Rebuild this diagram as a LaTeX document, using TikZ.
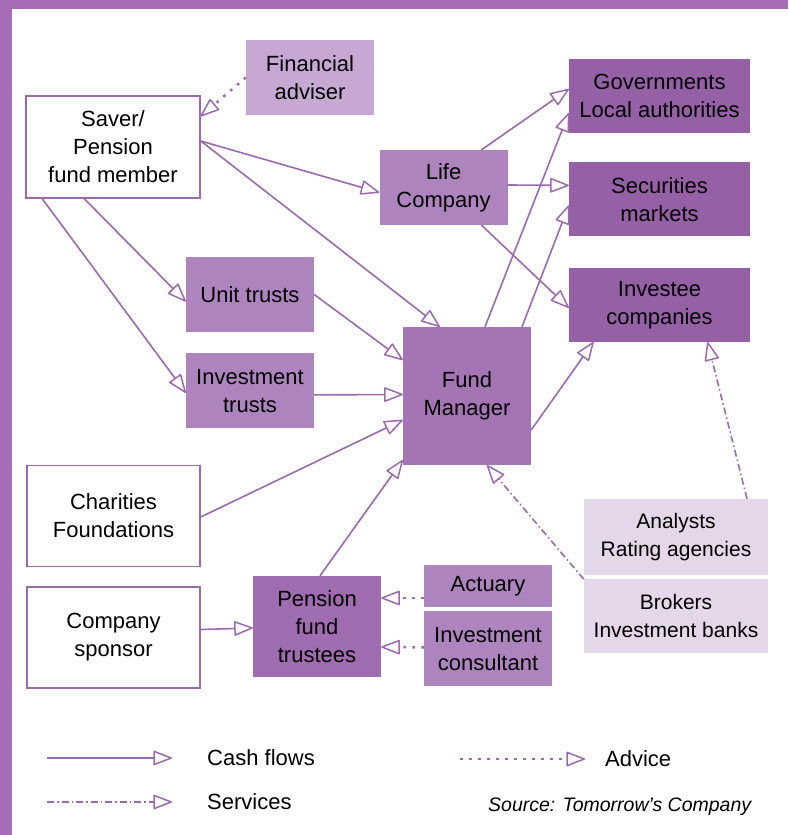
\documentclass[tikz,border=0pt]{standalone}
\usepackage{fontspec}
\setmainfont{Liberation Sans}
\usepackage{xcolor}
\usetikzlibrary{positioning}
\usetikzlibrary{arrows.meta}
\usetikzlibrary{calc}

\definecolor{framecol}{RGB}{166,108,182}
\definecolor{linecol}{RGB}{156,106,174}
\definecolor{darkbox}{RGB}{150,96,166}
\definecolor{fundbox}{RGB}{164,116,180}
\definecolor{trustbox}{RGB}{160,108,176}
\definecolor{midbox}{RGB}{173,132,190}
\definecolor{lightbox}{RGB}{198,168,211}
\definecolor{palebox}{RGB}{229,214,234}

\begin{document}
\begin{tikzpicture}[x=1pt,y=1pt,>={Triangle[open,length=20pt,width=15pt,line width=1.5pt,round]},
                    node distance=4pt,
                    main node/.style={rectangle,inner sep=0pt,align=center,font=\fontsize{22}{28}\selectfont},
                    white node/.style={main node,draw=linecol,line width=1.5pt,fill=white,minimum width=173pt,minimum height=101pt},
                    dark node/.style={main node,fill=darkbox,minimum width=181pt,minimum height=74pt},
                    mid node/.style={main node,fill=midbox,minimum width=128pt,minimum height=75pt},
                    pale node/.style={main node,fill=palebox,minimum width=184pt,minimum height=75pt,font=\fontsize{21}{28}\selectfont},
                    legend text/.style={anchor=west,inner sep=0pt,font=\fontsize{22}{28}\selectfont},
                    cash/.style={->,draw=linecol,line width=1.6pt},
                    advice/.style={cash,line width=2.5pt,dash pattern=on 2.5pt off 6.5pt},
                    service/.style={cash,dash pattern=on 7pt off 3pt on 1.5pt off 3pt}]
      \useasboundingbox (0,0) rectangle (788,835);
      \fill[white] (0,0) rectangle (788,835);
      \fill[framecol] (0,0) rectangle (12,835);
      \fill[framecol] (0,826) rectangle (788,835);

      % boxes
      \node[mid node,fill=lightbox] (adviser) at (310,757.5) {Financial\\adviser};
      \node[white node,minimum width=174pt,minimum height=102pt] (saver) at (113,688) {Saver/\\Pension\\fund member};
      \node[mid node] (life) at (443.5,647.5) {Life\\Company};
      \node[dark node] (govt) at (659.5,739) {Governments\\Local authorities};
      \node[dark node] (markets) [below=29pt of govt] {Securities\\markets};
      \node[dark node] (investee) [below=31pt of markets] {Investee\\companies};
      \node[mid node] (unit) at (250,540.5) {Unit trusts};
      \node[mid node] (invtrust) [below=21pt of unit] {Investment\\trusts};
      \node[mid node,fill=fundbox,minimum height=138pt] (fund) at (467,439) {Fund\\Manager};
      \node[white node] (charity) at (113.5,319) {Charities\\Foundations};
      \node[white node] (sponsor) [below=19pt of charity] {Company\\sponsor};
      \node[mid node,fill=trustbox,minimum height=101pt] (trustees) at (317,208.5) {Pension\\fund\\trustees};
      \node[mid node,minimum height=42pt] (actuary) at (488,249) {Actuary};
      \node[mid node] (consultant) [below=of actuary] {Investment\\consultant};
      \node[pale node,minimum height=76pt] (analysts) at (676,298) {Analysts\\Rating agencies};
      \node[pale node,minimum height=74pt] (brokers) [below=of analysts] {Brokers\\Investment banks};

      % cash flows
      \draw[cash] ([yshift=6pt]saver.east) -- ([yshift=-5pt]life.west);
      \draw[cash] ([yshift=6pt]saver.east) -- ([xshift=37pt]fund.north west);
      \draw[cash] ([xshift=59pt]saver.south west) -- ([yshift=-7pt]unit.west);
      \draw[cash] ([xshift=17pt]saver.south west) -- ([yshift=-2pt]invtrust.west);
      \draw[cash] (unit.east) -- ([yshift=36pt]fund.west);
      \draw[cash] ([yshift=-4pt]invtrust.east) -- ([yshift=1.5pt]fund.west);
      \draw[cash] ([yshift=-1pt]charity.east) -- ([yshift=-24pt]fund.west);
      \draw[cash] ([xshift=3pt]trustees.north) -- ([yshift=-64pt]fund.west);
      \draw[cash] ([yshift=8pt]sponsor.east) -- ([yshift=-1.5pt]trustees.west);
      \draw[cash] ([xshift=38pt]life.north) -- ([yshift=7pt]govt.west);
      \draw[cash] ([yshift=2.5pt]life.east) -- ([yshift=14pt]markets.west);
      \draw[cash] ([xshift=38pt]life.south) -- ([yshift=-3pt]investee.west);
      \draw[cash] ([xshift=18pt]fund.north) -- ([yshift=-17pt]govt.west);
      \draw[cash] ([xshift=55pt]fund.north) -- ([yshift=-6pt]markets.west);
      \draw[cash] ([yshift=-34pt]fund.east) -- ([xshift=-66pt]investee.south);

      % advice
      \draw[advice] (adviser.west) -- ([yshift=-21pt]saver.north east);
      \draw[advice] ([yshift=-12pt]actuary.west) -- ([yshift=28.5pt]trustees.east);
      \draw[advice] ([yshift=1.5pt]consultant.west) -- ([yshift=-20.5pt]trustees.east);

      % services
      \draw[service] (brokers.north west) -- ([xshift=20pt]fund.south);
      \draw[service] ([xshift=71pt]analysts.north) -- ([xshift=48pt]investee.south);

      % legend
      \coordinate (cash start) at (47,77);
      \coordinate (cash end) at (172,77);
      \coordinate (service start) at (47,33);
      \coordinate (service end) at (172,33);
      \coordinate (advice start) at (460,76);
      \coordinate (advice end) at (585,76);
      \draw[cash] (cash start) -- (cash end);
      \draw[service] (service start) -- (service end);
      \draw[advice] (advice start) -- (advice end);
      \node[legend text] (cash label) at (207,77) {Cash flows};
      \node[legend text] (service label) at (207,33) {Services};
      \node[legend text] (advice label) at (605,76) {Advice};
      \node[legend text,font=\fontsize{19.5}{24}\selectfont\itshape] (source) at (488,28) {Source: Tomorrow's Company};
\end{tikzpicture}
\end{document}
